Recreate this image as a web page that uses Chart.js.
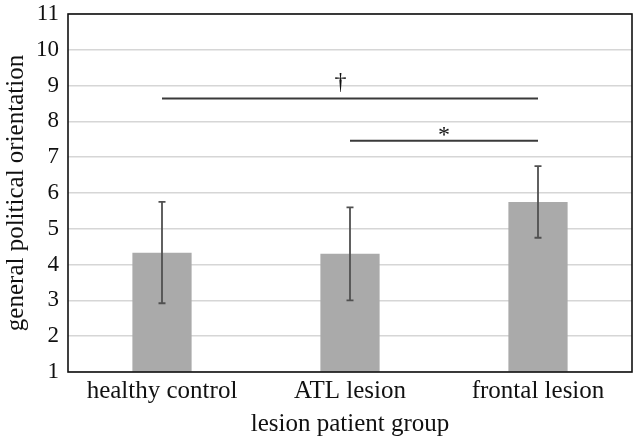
<!DOCTYPE html>
<html><head><meta charset="utf-8">
<script src="https://cdn.jsdelivr.net/npm/chart.js@4"></script>
<style>html,body{margin:0;padding:0;background:#fff}#wrap{width:638px;height:439px}</style>
</head><body><div id="wrap"><canvas id="c" width="638" height="439"></canvas></div>
<script>
const categories = ["healthy control", "ATL lesion", "frontal lesion"];
const means = [4.33, 4.30, 5.75];
const errLow = [2.92, 3.00, 4.75];
const errHigh = [5.75, 5.60, 6.75];
// significance brackets (category indices, y value, symbol, symbol position in category units)
const sigFrom = [0, 1];
const sigTo = [2, 2];
const sigY = [8.64, 7.46];
const sigSymbol = ["\u2020", "*"];
const sigSymbolAt = [0.95, 1.5];
const yTicks = [1,2,3,4,5,6,7,8,9,10,11];

const FONT = "'Liberation Serif','Times New Roman',serif";

const overlay = {
  id: 'overlay',
  afterDatasetsDraw(chart) {
    const ctx = chart.ctx, x = chart.scales.x, y = chart.scales.y;
    ctx.save();
    // error bars
    ctx.strokeStyle = '#505050';
    ctx.lineWidth = 1.8;
    for (let i = 0; i < categories.length; i++) {
      const cx = x.getPixelForValue(i);
      const yl = y.getPixelForValue(errLow[i]);
      const yh = y.getPixelForValue(errHigh[i]);
      ctx.beginPath();
      ctx.moveTo(cx, yl); ctx.lineTo(cx, yh);
      ctx.moveTo(cx - 3.5, yl); ctx.lineTo(cx + 3.5, yl);
      ctx.moveTo(cx - 3.5, yh); ctx.lineTo(cx + 3.5, yh);
      ctx.stroke();
    }
    // significance lines
    ctx.strokeStyle = '#3a3a3a';
    ctx.lineWidth = 1.8;
    ctx.fillStyle = '#111';
    ctx.textAlign = 'center';
    ctx.textBaseline = 'alphabetic';
    for (let k = 0; k < sigFrom.length; k++) {
      const x1 = x.getPixelForValue(sigFrom[k]);
      const x2 = x.getPixelForValue(sigTo[k]);
      const yy = y.getPixelForValue(sigY[k]);
      ctx.beginPath(); ctx.moveTo(x1, yy); ctx.lineTo(x2, yy); ctx.stroke();
      const sx = x.getPixelForValue(0) + (x.getPixelForValue(1) - x.getPixelForValue(0)) * sigSymbolAt[k];
      ctx.font = "24px " + FONT;
      ctx.fillText(sigSymbol[k], sx, k === 0 ? yy - 9 : yy + 1);
    }
    // frame
    const a = chart.chartArea;
    ctx.strokeStyle = '#111';
    ctx.lineWidth = 1.6;
    ctx.strokeRect(a.left, a.top, a.right - a.left, a.bottom - a.top);
    ctx.restore();
  }
};

new Chart(document.getElementById('c'), {
  type: 'bar',
  data: {
    labels: categories,
    datasets: [{
      data: means,
      backgroundColor: '#aaaaaa',
      borderWidth: 0,
      barPercentage: 0.315,
      categoryPercentage: 1.0
    }]
  },
  options: {
    responsive: false,
    animation: false,
    devicePixelRatio: 1,
    layout: { padding: { top: 0, right: 6, left: 0, bottom: 0 } },
    plugins: { legend: { display: false }, tooltip: { enabled: false } },
    scales: {
      x: {
        grid: { display: false, drawTicks: false },
        border: { display: false },
        ticks: { color: '#111', font: { family: FONT, size: 25 }, padding: 4 },
        title: { display: true, text: 'lesion patient group', color: '#111', font: { family: FONT, size: 25 }, padding: { top: 4, bottom: 0 } },
        afterFit(s) { s.height = 67; }
      },
      y: {
        min: 1, max: 11,
        afterBuildTicks(s) { s.ticks = yTicks.map(v => ({ value: v })); },
        grid: { color: '#d6d6d6', lineWidth: 1.6, drawTicks: false },
        border: { display: false },
        ticks: { color: '#111', font: { family: FONT, size: 23 }, padding: 9 },
        title: { display: true, text: 'general political orientation', color: '#111', font: { family: FONT, size: 25 }, padding: { top: 1, bottom: 4 } },
        afterFit(s) { s.width = 68; s.paddingTop = 14; s.paddingBottom = 0; }
      }
    }
  },
  plugins: [overlay]
});
</script>
</body></html>
